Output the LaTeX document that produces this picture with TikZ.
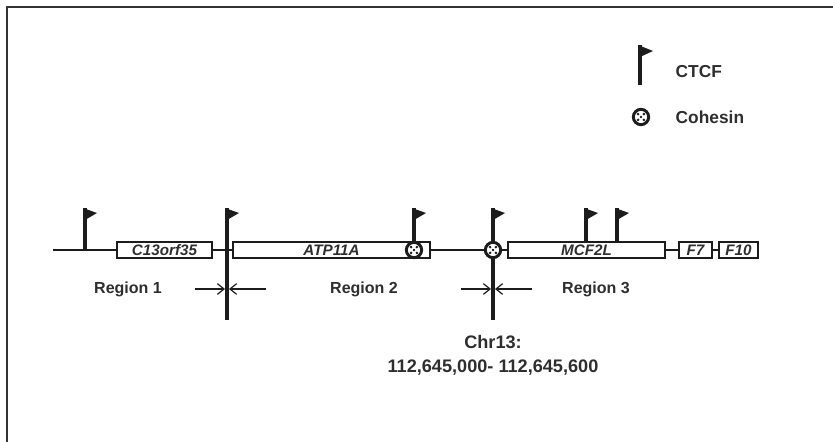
\documentclass[tikz,border=0pt]{standalone}
\usepackage{fontspec}
\setmainfont{Liberation Sans}
\usetikzlibrary{arrows.meta, positioning, calc}
\definecolor{ink}{HTML}{1C1C1C}
\definecolor{txt}{HTML}{2E2E2E}
\tikzset{
    gene/.style = {rectangle, draw=ink, line width=1.4pt, fill=white, minimum height=12pt, inner sep=0pt, font=\bfseries\itshape\fontsize{11.4}{12}\selectfont, text=txt},
    chrom/.style = {draw=ink, line width=1.4pt},
    pole/.style = {draw=ink, line width=3pt},
    outline/.style = {draw=ink!90, line width=2.2pt},
    cohesin/.style = {circle, draw=ink, line width=2.2pt, fill=white, minimum size=11.5pt, inner sep=0pt,
        path picture={\foreach \dx/\dy in {0/0, 2.2/2.2, -2.2/2.2, 2.2/-2.2, -2.2/-2.2}
            \fill[ink] ($(path picture bounding box.center)+(\dx pt,\dy pt)$) circle (1.1pt);}},
    region/.style = {font=\bfseries\fontsize{12}{14}\selectfont, text=txt},
    legend/.style = {font=\bfseries\fontsize{13}{15}\selectfont, text=txt, anchor=west},
    bound/.style = {draw=ink, line width=0.9pt, -{Straight Barb[length=5pt,width=8pt]}, shorten >=1.5pt}
}
% CTCF flag: name, x, lower end of the pole
\newcommand{\ctcf}[3]{%
    \coordinate (#1) at (#2,208);
    \draw[pole] (#2,#3) -- (#1);
    \fill[ink] ($(#1)+(-2,0)$) -- ++(14,5) -- ($(#1)+(0,12)$) -- cycle;
}

\begin{document}
\begin{tikzpicture}[x=0.75pt, y=-0.75pt]
\useasboundingbox (0,0) rectangle (833,442);

% frame
\draw[outline] (833,7) -- (7,7) -- (7,442);

% legend
\coordinate (lflag) at (640,45);
\draw[pole] (640,85) -- (lflag);
\fill[ink] ($(lflag)+(-2,0)$) -- ++(15,6) -- ($(lflag)+(0,12)$) -- cycle;
\node[legend] (ctcflab) at (671,72) {CTCF};
\node[cohesin] (lcoh) at (641,117) {};
\node[legend] (cohlab) at (671,117) {Cohesin};

% genes
\coordinate (chrL) at (53,250);
\node[gene, minimum width=71pt] (c13) at (164.5,250) {C13orf35};
\node[gene, minimum width=147.5pt] (atp) at (331.5,250) {ATP11A};
\node[gene, minimum width=117.5pt] (mcf) at (586.5,250) {MCF2L};
\node[gene, minimum width=24.5pt] (f7) at (695.5,250) {F7};
\node[gene, minimum width=29pt] (f10) at (738.5,250) {F10};

\draw[chrom] (chrL) -- (c13);
\draw[chrom] (c13) -- (atp);
\draw[chrom] (atp) -- (mcf);
\draw[chrom] (mcf) -- (f7);
\draw[chrom] (f7) -- (f10);

% CTCF sites
\ctcf{s1}{85}{250}
\ctcf{b1}{227}{320}
\ctcf{s2}{414}{250}
\ctcf{b2}{493}{320}
\ctcf{s3}{586}{242}
\ctcf{s4}{617}{242}

% cohesin
\node[cohesin] (coh1) at (414,250) {};
\node[cohesin] (coh2) at (493,250) {};

% boundaries
\coordinate (m1) at (227,289);
\coordinate (m2) at (493,289);
\coordinate (m1l) at (195,289);
\coordinate (m1r) at (266,289);
\coordinate (m2l) at (461,289);
\coordinate (m2r) at (532,289);
\draw[bound] (m1l) -- (m1);
\draw[bound] (m1r) -- (m1);
\draw[bound] (m2l) -- (m2);
\draw[bound] (m2r) -- (m2);

\node[region] (reg1) at (128,289) {Region 1};
\node[region] (reg2) at (364,289) {Region 2};
\node[region] (reg3) at (596,289) {Region 3};

\node[font=\bfseries\fontsize{13.6}{18}\selectfont, text=txt, align=center] (chr) at (493,355) {Chr13:\\112,645,000- 112,645,600};
\end{tikzpicture}
\end{document}
